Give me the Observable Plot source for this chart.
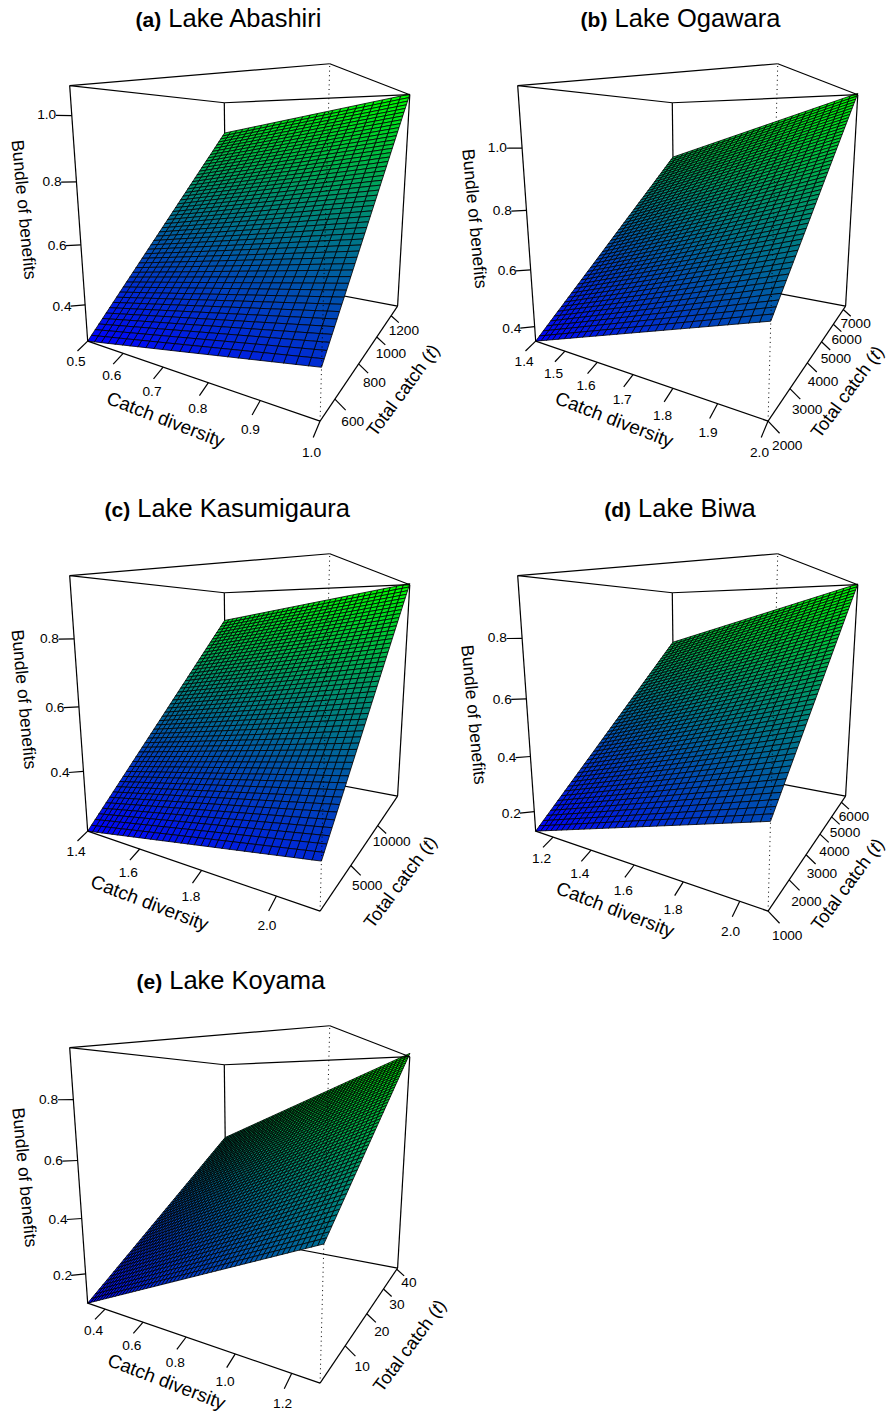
<!DOCTYPE html>
<html><head><meta charset="utf-8">
<script src="https://cdn.jsdelivr.net/npm/d3@7"></script>
<script src="https://cdn.jsdelivr.net/npm/@observablehq/plot@0.6"></script>
<style>
html,body{margin:0;padding:0;background:#fff;overflow:hidden}
#page{position:relative;width:886px;height:1411px;font-family:"Liberation Sans",Arial,sans-serif;color:#000}
.panel{position:absolute;width:445px}
.panel svg{display:block;overflow:visible;background:transparent;max-width:none !important}
.ttl{position:absolute;white-space:nowrap;transform:translate(-50%,-50%);font-size:25.5px;line-height:30px}
.ttl b{font-size:21px}
</style></head>
<body><div id="page"></div>
<script>
// Panels
const tags=["(a)","(b)","(c)","(d)","(e)"];
const lakes=["Lake Abashiri","Lake Ogawara","Lake Kasumigaura","Lake Biwa","Lake Koyama"];
// Axis limits
const xLims=[[0.5,1.0],[1.4,2.0],[1.4,2.1],[1.1,2.09],[0.3,1.29]];
const yLims=[[500,1307],[2000,7260],[1000,15200],[1000,6480],[1.2,40.7]];
// Surface height at its corners: [x0y0, x1y0, x0y1, x1y1]; the surface is a flat plane through these
const zCorners=[[0.274,0.412,0.951,1.087],[0.347,0.608,0.935,1.191],[0.205,0.327,0.859,0.977],[0.127,0.370,0.758,0.998],[0.091,0.461,0.607,0.964]];
// Facets per axis
const xCells=[25,30,35,33,55];
const yCells=[50,50,50,50,50];
// Tick values
const xTicks=[[0.5,0.6,0.7,0.8,0.9,1.0],[1.4,1.5,1.6,1.7,1.8,1.9,2.0],[1.4,1.6,1.8,2.0],[1.2,1.4,1.6,1.8,2.0],[0.4,0.6,0.8,1.0,1.2]];
const yTicks=[[600,800,1000,1200],[2000,3000,4000,5000,6000,7000],[5000,10000],[1000,2000,3000,4000,5000,6000],[10,20,30,40]];
const zTicks=[[0.4,0.6,0.8,1.0],[0.4,0.6,0.8,1.0],[0.4,0.6,0.8],[0.2,0.4,0.6,0.8],[0.2,0.4,0.6,0.8]];

// Layout
const panelLeft=[0,448.33,0,448.33,0], panelTop=[0,0,490,490,961.67], panelH=[470,470,470,470,449];
const panelW=445;
const titleAt=[[228.5,18.5],[680.5,18.5],[227.3,508.5],[680,508.5],[230.8,980.5]];
const catchAt=[[165,419.3],[165.7,419.3],[149,412.7],[166.7,419.3],[166,419.3]];
const totalAt=[[402.7,390],[399,391.5],[400,391.7],[399.2,394],[409.3,383.3]];
const bundleAt=[[23.3,209.3],[26,218.3],[23.3,209],[25,224.3],[24,215]];

// Camera of the persp() view
const theta=29.98*Math.PI/180, phi=-9.88*Math.PI/180, dist=3.718, expand=0.987;
function project(u,v,w){
  const X=2*u-1,Y=2*v-1,Z=(2*w-1)*expand;
  const a=X*Math.cos(theta)+Y*Math.sin(theta), b=-X*Math.sin(theta)+Y*Math.cos(theta);
  const depth=dist+b*Math.cos(phi)+Z*Math.sin(phi), up=Z*Math.cos(phi)-b*Math.sin(phi);
  return {px:a/depth,py:up/depth};
}
const pxPerX=437.2,pxPerY=441.3,originX=256.53,originY=211.07;
const link=(a,b)=>{const p=project(...a),q=project(...b);return {x1:p.px,y1:p.py,x2:q.px,y2:q.py};};
const backEdges=[[[0,1,1],[0,1,0]],[[0,0,0],[0,1,0]],[[0,1,0],[1,1,0]]];
const frontEdges=[[[0,0,1],[1,0,1]],[[1,0,1],[1,1,1]],[[1,1,1],[0,1,1]],[[0,1,1],[0,0,1]],[[0,0,0],[0,0,1]],[[1,1,0],[1,1,1]],[[0,0,0],[1,0,0]],[[1,0,0],[1,1,0]]];
const dotted=[[[1,0,0],[1,0,1]]];
const xTickVec=[0,-0.05,-0.02], yTickVec=[0.036,0,-0.026], zTickVec=[-0.038,-0.038,0];
const xLabVec=[0,-0.06,-0.062], yLabVec=[0.06,0,-0.057], zLabVec=[-0.06,-0.06,0.002];
const add=(a,b)=>a.map((v,i)=>v+b[i]);

const page=document.getElementById("page");
tags.forEach((tag,i)=>{
  const t=document.createElement("div");
  t.className="ttl";t.style.left=titleAt[i][0]+"px";t.style.top=titleAt[i][1]+"px";
  const b=document.createElement("b");b.textContent=tag;t.append(b," "+lakes[i]);page.append(t);

  const [x0,x1]=xLims[i],[y0,y1]=yLims[i];
  const zc=zCorners[i],zmin=zc[0],zmax=zc[3];
  const U=x=>(x-x0)/(x1-x0),V=y=>(y-y0)/(y1-y0),W=z=>(z-zmin)/(zmax-zmin);
  const plane=(u,v)=>zc[0]+(zc[1]-zc[0])*u+(zc[2]-zc[0])*v;
  const nx=xCells[i],ny=yCells[i],cells=[];
  for(let c=nx-1;c>=0;c--)for(let r=ny-1;r>=0;r--){
    const u=c/nx,v=r/ny,u2=(c+1)/nx,v2=(r+1)/ny;
    const mean=plane((u+u2)/2,(v+v2)/2);
    for(const [a,b] of [[u,v],[u2,v],[u2,v2],[u,v2],[u,v]]){
      const p=project(a,b,W(plane(a,b)));
      cells.push({id:c*1000+r,px:p.px,py:p.py,z:mean});
    }
  }
  const xBase=xTicks[i].map(x=>[U(x),0,0]);
  const yBase=yTicks[i].map(y=>[1,V(y),0]);
  const zBase=zTicks[i].map(z=>[0,0,W(z)]);
  const tickLinks=[...xBase.map(b=>link(b,add(b,xTickVec))),...yBase.map(b=>link(b,add(b,yTickVec))),...zBase.map(b=>link(b,add(b,zTickVec)))];
  const labels=[
    ...xBase.map((b,k)=>({...project(...add(b,xLabVec)),s:d3.format(".1f")(xTicks[i][k])})),
    ...yBase.map((b,k)=>({...project(...add(b,yLabVec)),s:String(yTicks[i][k])})),
    ...zBase.map((b,k)=>({...project(...add(b,zLabVec)),s:d3.format(".1f")(zTicks[i][k])}))
  ];
  const lw=1.2;
  const axisTitle=(s,at,rot,size)=>Plot.text([s],{text:d=>d,frameAnchor:"top-left",dx:at[0],dy:at[1],rotate:rot,fontSize:size,textAnchor:"middle",lineAnchor:"middle",fill:"black"});
  const h=panelH[i];
  const chart=Plot.plot({
    width:panelW,height:h,marginTop:0,marginRight:0,marginBottom:0,marginLeft:0,
    style:{background:"transparent",fontFamily:"'Liberation Sans',Arial,sans-serif"},
    x:{axis:null,domain:[-originX/pxPerX,(panelW-originX)/pxPerX],range:[0,panelW]},
    y:{axis:null,domain:[originY/pxPerY,(originY-h)/pxPerY],range:[0,h]},
    color:{type:"linear",domain:[zmin,zmax],range:["#0000ff","#00ff00"],interpolate:"rgb"},
    marks:[
      Plot.link(backEdges.map(e=>link(...e)),{x1:"x1",y1:"y1",x2:"x2",y2:"y2",stroke:"black",strokeWidth:lw}),
      Plot.line(cells,{x:"px",y:"py",z:"id",fill:"z",stroke:"black",strokeWidth:0.8,strokeLinejoin:"miter"}),
      Plot.link(frontEdges.map(e=>link(...e)),{x1:"x1",y1:"y1",x2:"x2",y2:"y2",stroke:"black",strokeWidth:lw}),
      Plot.link(dotted.map(e=>link(...e)),{x1:"x1",y1:"y1",x2:"x2",y2:"y2",stroke:"black",strokeWidth:1,strokeDasharray:"1 3.6"}),
      Plot.link(tickLinks,{x1:"x1",y1:"y1",x2:"x2",y2:"y2",stroke:"black",strokeWidth:lw}),
      Plot.text(labels,{x:"px",y:"py",text:"s",fontSize:13.7,fill:"black",textAnchor:"middle",lineAnchor:"middle"}),
      axisTitle("Bundle of benefits",bundleAt[i],84.6,17.5),
      axisTitle("Catch diversity",catchAt[i],21,19),
      axisTitle("Total catch (t)",totalAt[i],-53.5,18.2)
    ]
  });
  chart.querySelectorAll("text").forEach(n=>{
    if(n.textContent==="Total catch (t)"){
      const target=n.querySelector("tspan")||n;
      target.innerHTML='Total catch (<tspan font-style="italic">t</tspan>)';
    }
  });
  const holder=document.createElement("div");holder.className="panel";
  holder.style.left=panelLeft[i]+"px";holder.style.top=panelTop[i]+"px";
  holder.append(chart);page.append(holder);
});
</script></body></html>
